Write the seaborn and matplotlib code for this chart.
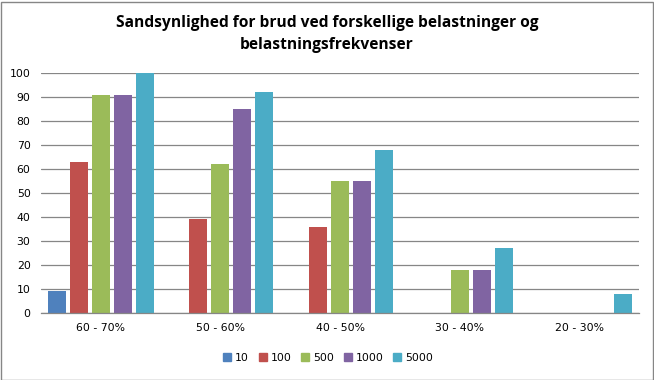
import matplotlib
matplotlib.use("Agg")
import matplotlib.pyplot as plt
import seaborn as sns
import pandas as pd
from matplotlib.patches import Rectangle

categories = ["60 - 70%", "50 - 60%", "40 - 50%", "30 - 40%", "20 - 30%"]
series = ["10", "100", "500", "1000", "5000"]
v10 = [9, 0, 0, 0, 0]
v100 = [63, 39, 36, 0, 0]
v500 = [91, 62, 55, 18, 0]
v1000 = [91, 85, 55, 18, 0]
v5000 = [100, 92, 68, 27, 8]
title = "Sandsynlighed for brud ved forskellige belastninger og\nbelastningsfrekvenser"
yticks = [0, 10, 20, 30, 40, 50, 60, 70, 80, 90, 100]

colors = ["#4F81BD", "#C0504D", "#9BBB59", "#8064A2", "#4BACC6"]

rows = []
for s, vals in zip(series, [v10, v100, v500, v1000, v5000]):
    for c, v in zip(categories, vals):
        rows.append({"cat": c, "series": s, "val": v})
df = pd.DataFrame(rows)

sns.set_theme(style="white")
plt.rcParams["font.family"] = ["DejaVu Sans"]
plt.rcParams["text.color"] = "black"

fig = plt.figure(figsize=(6.54, 3.8), dpi=100)
W, H = 654, 380
ax = fig.add_axes([41 / W, (H - 313) / H, (639 - 41) / W, (313 - 73) / H])

sns.barplot(data=df, x="cat", y="val", hue="series", order=categories,
            hue_order=series, palette=colors, width=0.92, gap=0.18,
            linewidth=0, saturation=1, ax=ax, legend=False)

ax.set_ylim(0, 100)
ax.set_xlim(-0.5, len(categories) - 0.5)
ax.set_yticks(yticks)
ax.yaxis.grid(True, color="#868686", linewidth=0.9)
ax.set_axisbelow(True)
for sp in ["top", "right", "left"]:
    ax.spines[sp].set_visible(False)
ax.spines["bottom"].set_color("#868686")
ax.spines["bottom"].set_linewidth(0.9)
ax.tick_params(axis="both", length=0, labelsize=7.8, colors="#000000")
ax.tick_params(axis="x", pad=7)
ax.tick_params(axis="y", pad=7.5)
ax.set_xlabel("")
ax.set_ylabel("")

fig.text(327 / W, 1 - 34 / H, title, ha="center", va="center",
         fontsize=11.2, fontweight="bold", fontstretch="normal", linespacing=1.55,
         family=["Open Sans"], color="black")

handles = [Rectangle((0, 0), 1, 1, color=c) for c in colors]
fig.legend(handles, series, loc="center", bbox_to_anchor=(328 / W, 1 - 358 / H),
           ncol=5, frameon=False, fontsize=7.8, handlelength=0.75, handleheight=0.75,
           handletextpad=0.35, columnspacing=0.9, labelcolor="black")

border = Rectangle((0.5 / W, 0.5 / H), 1 - 2 / W, 1 - 2 / H, transform=fig.transFigure,
                   fill=False, edgecolor="#868686", linewidth=1.0)
fig.patches.append(border)

fig.savefig("out.png", dpi=100, facecolor="white")
